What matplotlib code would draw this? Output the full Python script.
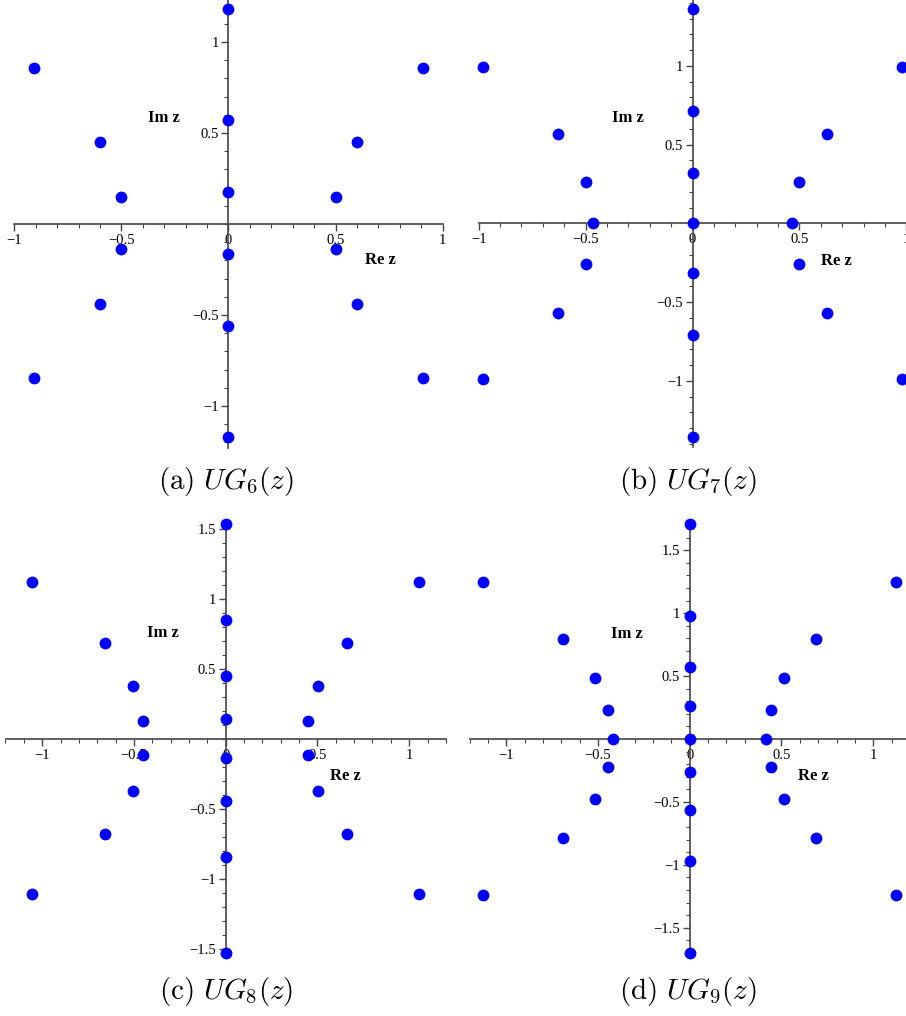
import matplotlib
matplotlib.use('Agg')
import matplotlib.pyplot as plt
from matplotlib.ticker import MultipleLocator, FixedLocator

plt.rcParams['mathtext.fontset'] = 'cm'
plt.rcParams['font.family'] = ['Liberation Serif', 'DejaVu Serif']

W, H = 906, 1016

# ===== 零点データ =====
re6 = [-0.91, -0.60, -0.50, 0.0, 0.0, 0.0, 0.50, 0.60, 0.91,
       -0.91, -0.60, -0.50, 0.0, 0.0, 0.0, 0.50, 0.60, 0.91]
im6 = [0.855, 0.45, 0.147, 1.18, 0.57, 0.178, 0.147, 0.45, 0.855,
       -0.846, -0.441, -0.137, -1.172, -0.56, -0.167, -0.137, -0.441, -0.846]

re7 = [-0.98, -0.63, -0.50, -0.465, 0.0, 0.0, 0.0, 0.0, 0.465, 0.50, 0.63, 0.98,
       -0.98, -0.63, -0.50, 0.0, 0.0, 0.0, 0.50, 0.63, 0.98]
im7 = [0.99, 0.57, 0.264, 0.0, 1.36, 0.713, 0.319, 0.0, 0.0, 0.264, 0.57, 0.99,
       -0.989, -0.567, -0.26, -1.359, -0.711, -0.316, -0.26, -0.567, -0.989]

re8 = [-1.055, -0.659, -0.507, -0.451, 0.0, 0.0, 0.0, 0.0, 0.449, 0.505, 0.659, 1.055,
       -1.055, -0.659, -0.507, -0.451, 0.0, 0.0, 0.0, 0.0, 0.449, 0.505, 0.659, 1.055]
im8 = [1.117, 0.682, 0.378, 0.126, 1.532, 0.846, 0.447, 0.143, 0.126, 0.378, 0.682, 1.117,
       -1.107, -0.675, -0.368, -0.114, -1.523, -0.841, -0.442, -0.138, -0.114, -0.368, -0.675, -1.107]

re9 = [-1.126, -0.692, -0.518, -0.445, -0.42, 0.0, 0.0, 0.0, 0.0, 0.0, 0.418, 0.443, 0.516, 0.69, 1.126,
       -1.126, -0.692, -0.518, -0.445, 0.0, 0.0, 0.0, 0.0, 0.443, 0.516, 0.69, 1.126]
im9 = [1.25, 0.795, 0.482, 0.231, 0.0, 1.709, 0.978, 0.57, 0.265, 0.0, 0.0, 0.231, 0.482, 0.795, 1.25,
       -1.24, -0.784, -0.475, -0.22, -1.699, -0.972, -0.562, -0.26, -0.22, -0.475, -0.784, -1.24]

x_ticks = [[-1, -0.5, 0, 0.5, 1], [-1, -0.5, 0, 0.5, 1], [-1, -0.5, 0, 0.5, 1], [-1, -0.5, 0, 0.5, 1]]
y_ticks = [[-1, -0.5, 0.5, 1], [-1, -0.5, 0.5, 1],
           [-1.5, -1, -0.5, 0.5, 1, 1.5], [-1.5, -1, -0.5, 0.5, 1, 1.5]]
captions = [r'$\mathrm{(a)}\ UG_6(z)$', r'$\mathrm{(b)}\ UG_7(z)$',
            r'$\mathrm{(c)}\ UG_8(z)$', r'$\mathrm{(d)}\ UG_9(z)$']

# ===== レイアウト（ピクセル単位） =====
panels = [
    # left, top, width, height / 軸範囲 / ラベル位置 / キャプション中心
    dict(rect=(14.3, 0, 428.4, 448), xl=1.0, yl=1.231, im=(-0.30, 0.58), rez=(0.71, -0.20), cap=(226, 481)),
    dict(rect=(478.7, 0, 427.6, 446.6), xl=1.0, yl=1.418, im=(-0.30, 0.67), rez=(0.673, -0.237), cap=(688, 481)),
    dict(rect=(5.5, 520.1, 440.4, 437.8), xl=1.2, yl=1.56, im=(-0.34, 0.753), rez=(0.65, -0.264), cap=(226, 991)),
    dict(rect=(469.5, 520.1, 440.4, 437.8), xl=1.2, yl=1.74, im=(-0.345, 0.835), rez=(0.676, -0.294), cap=(688, 991)),
]
data = [(re6, im6), (re7, im7), (re8, im8), (re9, im9)]

fig = plt.figure(figsize=(W / 100, H / 100), dpi=100)
axis_col = '#444444'

for i, p in enumerate(panels):
    l, t, w, h = p['rect']
    ax = fig.add_axes([l / W, 1 - (t + h) / H, w / W, h / H])
    ax.set_xlim(-p['xl'], p['xl'])
    ax.set_ylim(-p['yl'], p['yl'])
    ax.patch.set_alpha(0)

    xs, ys = data[i]
    ax.plot(xs, ys, 'o', color='#0000ff', markersize=8.5, markeredgewidth=0,
            clip_on=False, zorder=5)

    ax.spines['left'].set_position(('data', 0))
    ax.spines['bottom'].set_position(('data', 0))
    ax.spines['top'].set_visible(False)
    ax.spines['right'].set_visible(False)
    for s in ('left', 'bottom'):
        ax.spines[s].set_color(axis_col)
        ax.spines[s].set_linewidth(1.2)

    ax.xaxis.set_major_locator(FixedLocator(x_ticks[i]))
    ax.yaxis.set_major_locator(FixedLocator(y_ticks[i]))
    ax.xaxis.set_minor_locator(MultipleLocator(0.1))
    ax.yaxis.set_minor_locator(MultipleLocator(0.1))
    ax.set_xticklabels([f'{v:g}'.replace('-', '\u2212') for v in x_ticks[i]])
    ax.set_yticklabels([f'{v:g}'.replace('-', '\u2212') for v in y_ticks[i]])
    ax.tick_params(which='major', length=5, width=1, color=axis_col, labelsize=10.5, pad=2)
    ax.tick_params(which='minor', length=3, width=0.8, color=axis_col)

    ax.text(p['im'][0], p['im'][1], 'Im z', fontsize=12, fontweight='bold',
            ha='center', va='center')
    ax.text(p['rez'][0], p['rez'][1], 'Re z', fontsize=12, fontweight='bold',
            ha='center', va='center')

    fig.text(p['cap'][0] / W, 1 - p['cap'][1] / H, captions[i], fontsize=21,
             ha='center', va='center')

fig.savefig('out.png', dpi=100)
